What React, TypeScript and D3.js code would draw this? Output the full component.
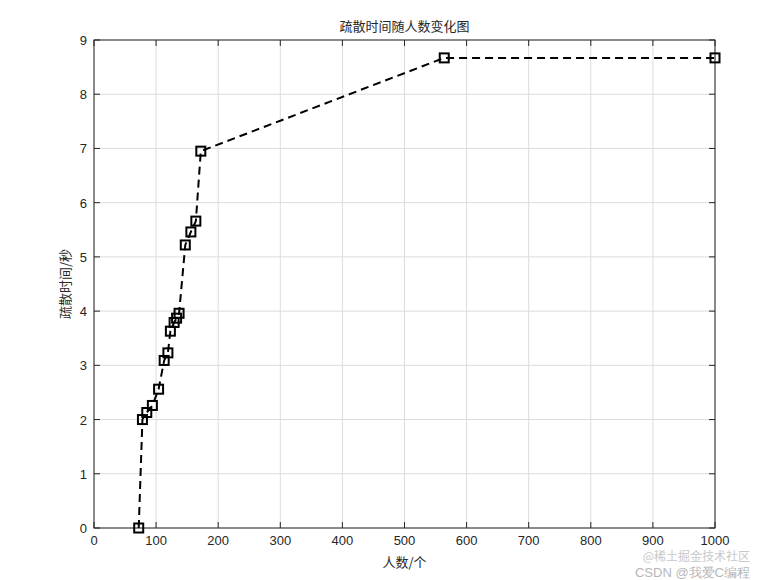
import React from "react";
import * as d3 from "d3";

const people = [72, 78, 85, 94, 104, 113, 119, 123, 129, 133, 137, 147, 156, 164, 172, 564, 1000];
const times = [0, 2.0, 2.13, 2.26, 2.56, 3.09, 3.23, 3.63, 3.79, 3.87, 3.96, 5.22, 5.46, 5.66, 6.95, 8.67, 8.67];
const xTicks = [0, 100, 200, 300, 400, 500, 600, 700, 800, 900, 1000];
const yTicks = [0, 1, 2, 3, 4, 5, 6, 7, 8, 9];
const title = "疏散时间随人数变化图";
const xLabel = "人数/个";
const yLabel = "疏散时间/秒";

const W = 768, H = 580;
const L = 94, R = 715, T = 40, B = 528;

export default function App() {
  const x = d3.scaleLinear().domain([0, 1000]).range([L, R]);
  const y = d3.scaleLinear().domain([0, 9]).range([B, T]);
  const line = d3.line<number>().x((_, i) => x(people[i])).y((d) => y(d));
  const font = "'Liberation Sans', Arial, sans-serif";
  const cjk = "'Noto Sans CJK SC', sans-serif";
  return (
    <svg width={W} height={H} style={{ position: "absolute", left: 0, top: 0, background: "#fff" }}>
      <rect x={0} y={0} width={W} height={H} fill="#fff" />
      {xTicks.map((t) => (
        <line key={"gx" + t} x1={x(t)} x2={x(t)} y1={T} y2={B} stroke="#dcdcdc" strokeWidth={1} />
      ))}
      {yTicks.map((t) => (
        <line key={"gy" + t} x1={L} x2={R} y1={y(t)} y2={y(t)} stroke="#dcdcdc" strokeWidth={1} />
      ))}
      <rect x={L} y={T} width={R - L} height={B - T} fill="none" stroke="#262626" strokeWidth={1} />
      {xTicks.map((t) => (
        <g key={"tx" + t}>
          <line x1={x(t)} x2={x(t)} y1={B} y2={B - 6} stroke="#262626" />
          <line x1={x(t)} x2={x(t)} y1={T} y2={T + 6} stroke="#262626" />
          <text x={x(t)} y={B + 17} textAnchor="middle" fontSize={13} fontFamily={font} fill="#262626">{t}</text>
        </g>
      ))}
      {yTicks.map((t) => (
        <g key={"ty" + t}>
          <line x1={L} x2={L + 6} y1={y(t)} y2={y(t)} stroke="#262626" />
          <line x1={R} x2={R - 6} y1={y(t)} y2={y(t)} stroke="#262626" />
          <text x={L - 7} y={y(t) + 5} textAnchor="end" fontSize={13} fontFamily={font} fill="#262626">{t}</text>
        </g>
      ))}
      <path d={line(times) || ""} fill="none" stroke="#000" strokeWidth={2} strokeDasharray="8,5" />
      {times.map((v, i) => (
        <rect key={"m" + i} x={x(people[i]) - 4.5} y={y(v) - 4.5} width={9} height={9} fill="none" stroke="#000" strokeWidth={2} />
      ))}
      <text x={(L + R) / 2} y={31} textAnchor="middle" fontSize={13} fontFamily={cjk} fill="#262626">{title}</text>
      <text x={(L + R) / 2} y={567} textAnchor="middle" fontSize={13} fontFamily={cjk} fill="#262626">{xLabel}</text>
      <text transform={`translate(70,${(T + B) / 2}) rotate(-90)`} textAnchor="middle" fontSize={13} fontFamily={cjk} fill="#262626">{yLabel}</text>
      <text x={750} y={561} textAnchor="end" fontSize={12} fontFamily={cjk} fill="#bbb" opacity={0.8}>@稀土掘金技术社区</text>
      <text x={750} y={577} textAnchor="end" fontSize={13} fontFamily={font} fill="#999" opacity={0.7}>CSDN @我爱C编程</text>
    </svg>
  );
}
